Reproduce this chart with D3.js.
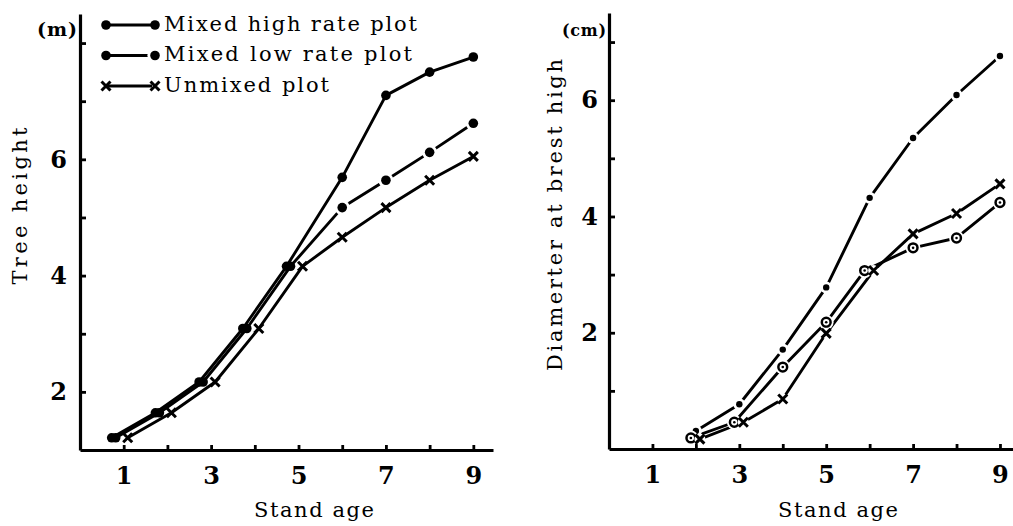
<!DOCTYPE html>
<html>
<head>
<meta charset="utf-8">
<script src="https://cdn.jsdelivr.net/npm/d3@7"></script>
<style>
  html, body { margin: 0; padding: 0; background: #fff; }
  svg { display: block; }
  text { font-family: "DejaVu Serif", "Liberation Serif", serif; fill: #000; }
</style>
</head>
<body>
<svg id="chart" width="1013" height="526"></svg>
<script>
// Stand age (years)
const ages = [1, 2, 3, 4, 5, 6, 7, 8, 9];
const diamAges = [2, 3, 4, 5, 6, 7, 8, 9];

// Tree height (m)
const heightHigh    = [1.21, 1.64, 2.17, 3.09, 4.16, 5.69, 7.10, 7.50, 7.76];
const heightLow     = [1.21, 1.64, 2.17, 3.09, 4.16, 5.17, 5.64, 6.12, 6.62];
const heightUnmixed = [1.21, 1.64, 2.17, 3.09, 4.16, 4.66, 5.17, 5.64, 6.05];

// Diameter at breast height (cm)
const diamHigh    = [0.31, 0.77, 1.71, 2.78, 4.32, 5.35, 6.09, 6.76];
const diamLow     = [0.19, 0.46, 1.41, 2.18, 3.07, 3.46, 3.63, 4.24];
const diamUnmixed = [0.17, 0.46, 0.86, 1.99, 3.07, 3.70, 4.05, 4.56];

const seriesNames = ["Mixed high rate plot", "Mixed low rate plot", "Unmixed plot"];
const xTickValues = [1, 2, 3, 4, 5, 6, 7, 8, 9];
const xTickLabels = ["1", "", "3", "", "5", "", "7", "", "9"];

const svg = d3.select("#chart");
const SERIF = '"DejaVu Serif", "Liberation Serif", serif';
const LINE_W = 2.9;

// Text stretched to a given width, the way the printed figure spaces its letters
function spacedText(g, str, size, width) {
  return g.append("text")
    .style("font-size", size + "px")
    .attr("textLength", width).attr("lengthAdjust", "spacing")
    .text(str);
}

// Marker drawing helpers
function drawMarker(g, kind, x, y, opt) {
  const halo = opt && opt.halo;
  if (kind === "dot" || kind === "bigdot") {
    const r = kind === "dot" ? 3.2 : 4.8;
    if (halo) g.append("circle").attr("cx", x).attr("cy", y).attr("r", r + 2.8).attr("fill", "#fff");
    g.append("circle").attr("cx", x).attr("cy", y).attr("r", r).attr("fill", "#000");
  } else if (kind === "ring") {
    if (halo) g.append("circle").attr("cx", x).attr("cy", y).attr("r", 7.4).attr("fill", "#fff");
    g.append("circle").attr("cx", x).attr("cy", y).attr("r", 4.4)
      .attr("fill", "#fff").attr("stroke", "#000").attr("stroke-width", 2.5);
    g.append("circle").attr("cx", x).attr("cy", y).attr("r", 1.3).attr("fill", "#000");
  } else if (kind === "cross") {
    const s = 4.5;
    if (halo) g.append("circle").attr("cx", x).attr("cy", y).attr("r", 5.5).attr("fill", "#fff");
    g.append("path")
      .attr("d", `M${x - s},${y - s}L${x + s},${y + s}M${x + s},${y - s}L${x - s},${y + s}`)
      .attr("stroke", "#000").attr("stroke-width", 3).attr("fill", "none");
  }
}

function drawPanel(cfg) {
  const g = svg.append("g");
  const x = d3.scaleLinear().domain(cfg.xDomain).range(cfg.xRange);
  const y = d3.scaleLinear().domain(cfg.yDomain).range(cfg.yRange);

  // y axis: ticks point inward, labels sit outside
  const yAxis = d3.axisLeft(y)
    .tickValues(cfg.yTicks)
    .tickFormat((d, i) => cfg.yLabels[i])
    .tickSizeInner(-6).tickSizeOuter(0).tickPadding(cfg.yPad);
  const ya = g.append("g").attr("transform", `translate(${cfg.xRange[0]},0)`).call(yAxis);

  // x axis: ticks point upward, labels below
  const xAxis = d3.axisBottom(x)
    .tickValues(xTickValues)
    .tickFormat((d, i) => xTickLabels[i])
    .tickSizeInner(-5).tickSizeOuter(0).tickPadding(17);
  const xa = g.append("g").attr("transform", `translate(0,${cfg.yRange[0]})`).call(xAxis);

  [ya, xa].forEach(a => {
    a.select(".domain").attr("stroke", "#000").attr("stroke-width", 3.2);
    a.selectAll(".tick line").attr("stroke", "#000").attr("stroke-width", 2.8);
    a.selectAll(".tick text")
      .style("font-family", SERIF).style("font-weight", "bold")
      .style("font-size", "24px").attr("fill", "#000");
  });
  xa.selectAll(".tick text").attr("dy", "0.71em");

  // unit label near the top of the y axis
  spacedText(g, cfg.unit, cfg.unitSize, cfg.unitW)
    .attr("x", cfg.xRange[0] - 3 - cfg.unitW).attr("y", cfg.unitY)
    .attr("dominant-baseline", "middle").style("font-weight", "bold");

  // axis titles
  spacedText(g, cfg.yTitle, 21, cfg.yTitleW)
    .attr("transform", `translate(${cfg.yTitleX},${cfg.yTitleY}) rotate(-90)`)
    .attr("x", -cfg.yTitleW / 2).attr("y", 0)
    .attr("dominant-baseline", "middle");
  spacedText(g, "Stand age", 21, 120)
    .attr("x", cfg.xTitleX - 60).attr("y", 511)
    .attr("dominant-baseline", "middle");

  // series: points shared by several series are nudged sideways so each stays visible
  const pts = cfg.series.map((s, si) => s.values.map((v, i) => {
    const shared = cfg.series.some((o, oi) => oi !== si && Math.abs(o.values[i] - v) < 0.15);
    return { x: x(cfg.ages[i]) + (shared ? s.dx : 0), y: y(v), shared: shared };
  }));

  const line = d3.line().x(p => p.x).y(p => p.y);
  cfg.series.forEach((s, si) => {
    g.append("path").attr("d", line(pts[si]))
      .attr("fill", "none").attr("stroke", "#000")
      .attr("stroke-width", LINE_W).attr("stroke-linejoin", "round");
  });
  cfg.series.forEach((s, si) => {
    pts[si].forEach(p => drawMarker(g, s.marker, p.x, p.y, { halo: s.halo && !(p.shared && s.marker === "bigdot") }));
  });
}

// Tree height panel
drawPanel({
  xDomain: [0, 9.45], xRange: [80, 493],
  yDomain: [1, 8.5], yRange: [450, 14],
  yTicks: [2, 3, 4, 5, 6, 7, 8],
  yLabels: ["2", "", "4", "", "6", "", ""],
  yPad: 13,
  unit: "(m)", unitSize: 19, unitY: 31, unitW: 40,
  yTitle: "Tree height", yTitleX: 21, yTitleY: 206, yTitleW: 157,
  xTitleX: 314,
  ages: ages,
  series: [
    { values: heightHigh, marker: "bigdot", dx: -12, halo: false },
    { values: heightLow, marker: "bigdot", dx: -8, halo: true },
    { values: heightUnmixed, marker: "cross", dx: 4, halo: false }
  ]
});

// Diameter panel
drawPanel({
  xDomain: [0, 9.3], xRange: [609, 1013],
  yDomain: [0, 7.5], yRange: [449, 13],
  yTicks: [1, 2, 3, 4, 5, 6, 7],
  yLabels: ["", "2", "", "4", "", "6", ""],
  yPad: 11,
  unit: "(cm)", unitSize: 16, unitY: 31, unitW: 44,
  yTitle: "Diamerter at brest high", yTitleX: 556, yTitleY: 215, yTitleW: 312,
  xTitleX: 838,
  ages: diamAges,
  series: [
    { values: diamHigh, marker: "dot", dx: 0, halo: true },
    { values: diamLow, marker: "ring", dx: -5, halo: true },
    { values: diamUnmixed, marker: "cross", dx: 4, halo: true }
  ]
});

// Legend
const legendMarkers = ["bigdot", "bigdot", "cross"];
const legendWidths = [253, 248, 165];
const legend = svg.append("g");
seriesNames.forEach((name, i) => {
  const ly = 25 + i * 30.5;
  legend.append("line").attr("x1", 106).attr("x2", 152).attr("y1", ly).attr("y2", ly)
    .attr("stroke", "#000").attr("stroke-width", LINE_W);
  drawMarker(legend, legendMarkers[i], 106, ly, {});
  drawMarker(legend, legendMarkers[i], 155, ly, { halo: i === 1 });
  spacedText(legend, name, 21, legendWidths[i])
    .attr("x", 164).attr("y", ly)
    .attr("dominant-baseline", "middle");
});
</script>
</body>
</html>
